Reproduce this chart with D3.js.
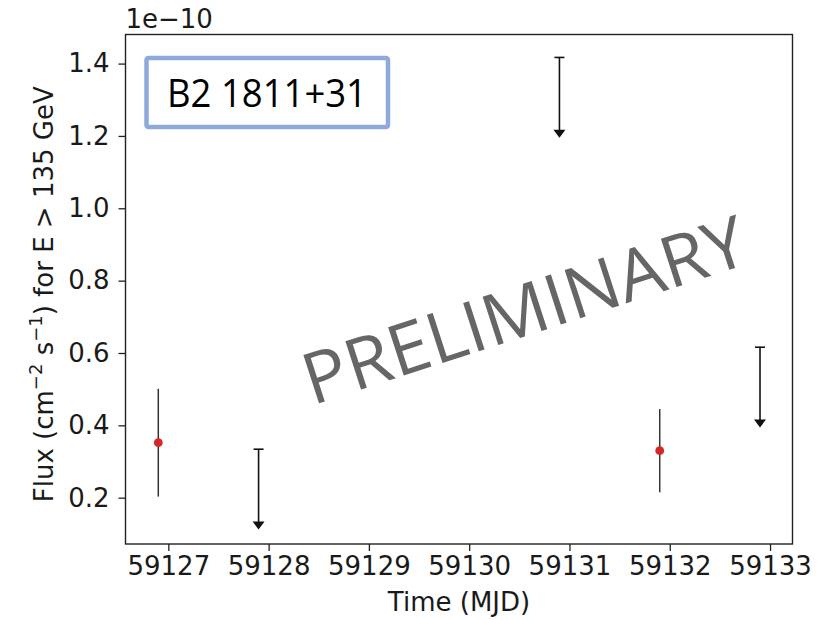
<!DOCTYPE html>
<html>
<head>
<meta charset="utf-8">
<script src="https://cdn.jsdelivr.net/npm/d3@7"></script>
<style>
  body { margin: 0; background: #fff; }
  svg { display: block; }
</style>
</head>
<body>
<div id="chart"></div>
<script>
// Data (flux in units of 1e-10 cm^-2 s^-1)
var detTime = [59126.9, 59131.9];
var detFlux = [0.352, 0.330];
var detErr = [0.149, 0.115];

var ulTime = [59127.9, 59130.9, 59132.9];
var ulFlux = [0.334, 1.417, 0.616];
var ulArrow = 0.222; // arrow length drawn down from each upper limit

var xTicks = [59127, 59128, 59129, 59130, 59131, 59132, 59133];
var yTicks = [0.2, 0.4, 0.6, 0.8, 1.0, 1.2, 1.4];

var width = 838;
var height = 620;

var paddingLeft = 125.5;
var paddingTop = 34.5;
var plotWidth = 667;
var plotHeight = 509.5;

var font = "DejaVu Sans";

var svg = d3.select("#chart").append("svg")
  .attr("width", width)
  .attr("height", height);

// Scales
var x = d3.scaleLinear()
  .domain([59126.573, 59133.224])
  .range([0, plotWidth]);

var y = d3.scaleLinear()
  .domain([0.072, 1.4804])
  .range([plotHeight, 0]);

var g = svg.append("g")
  .attr("transform", "translate(" + paddingLeft + "," + paddingTop + ")");

// Axes
var xAxis = d3.axisBottom(x)
  .tickValues(xTicks)
  .tickFormat(d3.format("d"))
  .tickSize(7)
  .tickPadding(6);

var yAxis = d3.axisLeft(y)
  .tickValues(yTicks)
  .tickFormat(d3.format(".1f"))
  .tickSize(7)
  .tickPadding(9);

var gx = g.append("g")
  .attr("transform", "translate(0," + plotHeight + ")")
  .call(xAxis);

var gy = g.append("g")
  .call(yAxis);

[gx, gy].forEach(function(a) {
  a.select(".domain").remove();
  a.selectAll(".tick line").attr("stroke", "#222").attr("stroke-width", 1.3);
  a.selectAll(".tick text")
    .style("font-family", font)
    .style("font-size", "26px")
    .attr("fill", "#1a1a1a");
});

gx.selectAll(".tick text").attr("dy", "0.71em");

// Frame
g.append("rect")
  .attr("x", 0)
  .attr("y", 0)
  .attr("width", plotWidth)
  .attr("height", plotHeight)
  .attr("fill", "none")
  .attr("stroke", "#222")
  .attr("stroke-width", 1.4);

// Offset text
svg.append("text")
  .attr("x", paddingLeft)
  .attr("y", 28)
  .style("font-family", font)
  .style("font-size", "26px")
  .attr("fill", "#1a1a1a")
  .text("1e\u221210");

// Axis labels
svg.append("text")
  .attr("x", paddingLeft + plotWidth / 2)
  .attr("y", 611)
  .attr("text-anchor", "middle")
  .style("font-family", font)
  .style("font-size", "26px")
  .attr("fill", "#1a1a1a")
  .text("Time (MJD)");

var ylab = svg.append("text")
  .attr("transform", "translate(53," + (paddingTop + plotHeight / 2 + 5) + ") rotate(-90)")
  .attr("text-anchor", "middle")
  .style("font-family", font)
  .style("font-size", "26px")
  .attr("fill", "#1a1a1a");
ylab.append("tspan").text("Flux (cm");
ylab.append("tspan").attr("dy", -11).style("font-size", "18px").text("\u22122");
ylab.append("tspan").attr("dy", 11).text(" s");
ylab.append("tspan").attr("dy", -11).style("font-size", "18px").text("\u22121");
ylab.append("tspan").attr("dy", 11).text(") for E > 135 GeV");

// Detections: error bars + points
detTime.forEach(function(t, i) {
  g.append("line")
    .attr("x1", x(t)).attr("x2", x(t))
    .attr("y1", y(detFlux[i] + detErr[i]))
    .attr("y2", y(detFlux[i] - detErr[i]))
    .attr("stroke", "#333")
    .attr("stroke-width", 1.5);
  g.append("circle")
    .attr("cx", x(t))
    .attr("cy", y(detFlux[i]))
    .attr("r", 4.4)
    .attr("fill", "#d62728");
});

// Upper limits: cap, line, arrow head
ulTime.forEach(function(t, i) {
  var cx = x(t);
  var top = y(ulFlux[i]);
  var tip = y(ulFlux[i] - ulArrow);
  g.append("line")
    .attr("x1", cx - 5).attr("x2", cx + 5)
    .attr("y1", top).attr("y2", top)
    .attr("stroke", "#111")
    .attr("stroke-width", 1.6);
  g.append("line")
    .attr("x1", cx).attr("x2", cx)
    .attr("y1", top).attr("y2", tip - 4)
    .attr("stroke", "#111")
    .attr("stroke-width", 1.6);
  g.append("path")
    .attr("d", "M" + (cx - 6) + "," + (tip - 8) + "L" + (cx + 6) + "," + (tip - 8) + "L" + cx + "," + tip + "Z")
    .attr("fill", "#111");
});

// Source name box
svg.append("rect")
  .attr("x", 146.5)
  .attr("y", 58)
  .attr("width", 241.5)
  .attr("height", 69)
  .attr("rx", 2)
  .attr("fill", "#fff")
  .attr("stroke", "#8eaadb")
  .attr("stroke-width", 4.5);

svg.append("text")
  .attr("x", 267)
  .attr("y", 107)
  .attr("text-anchor", "middle")
  .style("font-family", "Open Sans")
  .style("font-size", "39px")
  .attr("textLength", 200)
  .attr("lengthAdjust", "spacingAndGlyphs")
  .attr("fill", "#000")
  .text("B2 1811+31");

// Watermark
svg.append("text")
  .attr("transform", "translate(532,334) rotate(-18)")
  .attr("text-anchor", "middle")
  .style("font-family", "Open Sans")
  .style("font-size", "71px")
  .attr("textLength", 462)
  .attr("lengthAdjust", "spacingAndGlyphs")
  .attr("fill", "#666")
  .text("PRELIMINARY");
</script>
</body>
</html>
